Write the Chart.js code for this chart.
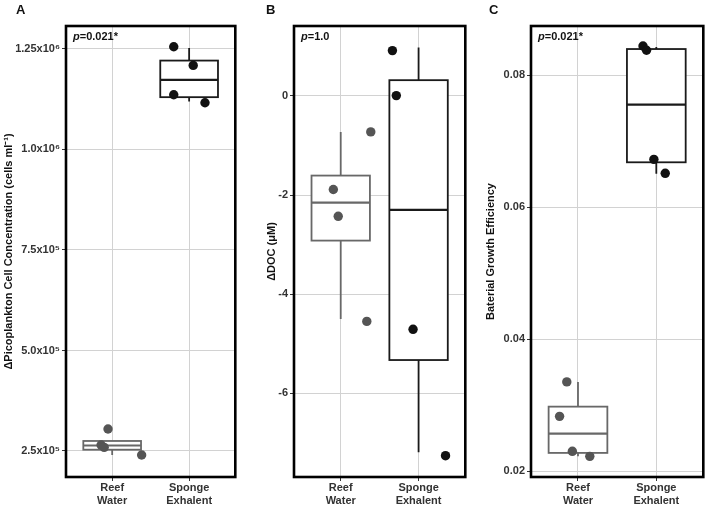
<!DOCTYPE html>
<html><head><meta charset="utf-8">
<script src="https://cdn.jsdelivr.net/npm/chart.js@4.4.1/dist/chart.umd.min.js"></script>
<style>
html,body{margin:0;padding:0;background:#fff;}
body{width:708px;height:507px;position:relative;overflow:hidden;}
canvas{position:absolute;top:0;}
</style></head>
<body>
<canvas id="cA" width="240" height="507" style="left:0px"></canvas>
<canvas id="cB" width="230" height="507" style="left:240px"></canvas>
<canvas id="cC" width="238" height="507" style="left:470px"></canvas>
<script>
// ---------- data ----------
const categories = ['Reef Water', 'Sponge Exhalent'];
const xTickLabels = [['Reef', 'Water'], ['Sponge', 'Exhalent']];

// Panel A: ΔPicoplankton cell concentration
const picoTicks = [2.5e5, 5e5, 7.5e5, 1e6, 1.25e6];
const picoTickLabels = ['2.5x10⁵', '5.0x10⁵', '7.5x10⁵', '1.0x10⁶', '1.25x10⁶'];
const picoReefX = [0.946, 0.856, 0.896, 1.383];
const picoReefY = [3.047e5, 2.65e5, 2.59e5, 2.40e5];
const picoSpongeX = [1.80, 2.053, 1.80, 2.206];
const picoSpongeY = [1.2555e6, 1.209e6, 1.136e6, 1.116e6];
// box stats: [lower whisker, q1, median, q3, upper whisker]
const picoReefBox = [2.40e5, 2.532e5, 2.637e5, 2.749e5, 2.749e5];
const picoSpongeBox = [1.119e6, 1.130e6, 1.173e6, 1.221e6, 1.252e6];
const picoRange = [1.853e5, 1.307e6];
const picoP = '0.021*';

// Panel B: ΔDOC
const docTicks = [-6, -4, -2, 0];
const docTickLabels = ['-6', '-4', '-2', '0'];
const docReefX = [1.386, 0.905, 0.968, 1.335];
const docReefY = [-0.727, -1.89, -2.43, -4.55];
const docSpongeX = [1.664, 1.714, 1.929, 2.346];
const docSpongeY = [0.914, 0.006, -4.71, -7.26];
const docReefBox = [-4.50, -2.92, -2.153, -1.608, -0.727];
const docSpongeBox = [-7.19, -5.33, -2.30, 0.317, 0.975];
const docRange = [-7.69, 1.41];
const docP = '1.0';

// Panel C: Bacterial growth efficiency
const bgeTicks = [0.02, 0.04, 0.06, 0.08];
const bgeTickLabels = ['0.02', '0.04', '0.06', '0.08'];
const bgeReefX = [0.857, 0.765, 0.928, 1.151];
const bgeReefY = [0.03355, 0.02833, 0.02303, 0.02227];
const bgeSpongeX = [1.830, 1.875, 1.969, 2.114];
const bgeSpongeY = [0.08444, 0.08379, 0.06727, 0.06515];
const bgeReefBox = [0.0223, 0.02279, 0.02571, 0.0298, 0.03355];
const bgeSpongeBox = [0.0651, 0.06682, 0.07555, 0.08398, 0.0843];
const bgeRange = [0.01914, 0.08747];
const bgeP = '0.021*';

// ---------- style ----------
const FONT = "'Liberation Sans', Arial, Helvetica, sans-serif";
Chart.defaults.font.family = FONT;
const REEF_LINE = '#686868', REEF_PT = '#555555';
const SPONGE_LINE = '#1a1a1a', SPONGE_PT = '#111111';
const GRID = '#d2d2d2';
const BOX_HALF = 0.375;

function makePanel(id, o) {
  const el = document.getElementById(id);
  const panelPlugin = {
    id: 'panel' + id,
    beforeDatasetsDraw(chart) {
      const {ctx, scales: {x, y}} = chart;
      ctx.save();
      [[o.reefBox, 1, REEF_LINE], [o.spongeBox, 2, SPONGE_LINE]].forEach(([b, pos, col]) => {
        const xc = x.getPixelForValue(pos);
        const xl = x.getPixelForValue(pos - BOX_HALF);
        const xr = x.getPixelForValue(pos + BOX_HALF);
        const [lo, q1, med, q3, hi] = b.map(v => y.getPixelForValue(v));
        ctx.strokeStyle = col;
        ctx.lineWidth = 1.8;
        ctx.beginPath();
        ctx.moveTo(xc, lo); ctx.lineTo(xc, q1);
        ctx.moveTo(xc, q3); ctx.lineTo(xc, hi);
        ctx.stroke();
        ctx.fillStyle = '#ffffff';
        ctx.fillRect(xl, q3, xr - xl, q1 - q3);
        ctx.strokeRect(xl, q3, xr - xl, q1 - q3);
        ctx.lineWidth = 2.2;
        ctx.beginPath();
        ctx.moveTo(xl, med); ctx.lineTo(xr, med);
        ctx.stroke();
      });
      ctx.restore();
    },
    afterDraw(chart) {
      const {ctx, chartArea: a} = chart;
      ctx.save();
      ctx.strokeStyle = '#000';
      ctx.lineWidth = 2.6;
      ctx.strokeRect(a.left, a.top, a.right - a.left, a.bottom - a.top);
      // p-value
      ctx.fillStyle = '#111';
      ctx.textBaseline = 'middle';
      ctx.font = 'italic bold 11px ' + FONT;
      const px = a.left + 7, py = a.top + 11;
      ctx.fillText('p', px, py);
      const w = ctx.measureText('p').width;
      ctx.font = 'bold 11px ' + FONT;
      ctx.fillText('=' + o.p, px + w, py);
      // panel letter
      ctx.font = 'bold 13px ' + FONT;
      ctx.textBaseline = 'alphabetic';
      ctx.fillText(o.letter, o.letterX, 14);
      ctx.restore();
    }
  };
  new Chart(el, {
    type: 'scatter',
    data: {
      datasets: [
        {label: categories[0], data: o.reefX.map((v, i) => ({x: v, y: o.reefY[i]})),
         backgroundColor: REEF_PT, borderColor: REEF_PT, borderWidth: 0, pointRadius: 4.7},
        {label: categories[1], data: o.spongeX.map((v, i) => ({x: v, y: o.spongeY[i]})),
         backgroundColor: SPONGE_PT, borderColor: SPONGE_PT, borderWidth: 0, pointRadius: 4.7}
      ]
    },
    options: {
      responsive: false, animation: false, events: [],
      layout: {padding: {left: 0, top: 26, right: o.padRight, bottom: 0}},
      plugins: {legend: {display: false}, tooltip: {enabled: false}},
      scales: {
        x: {
          type: 'linear', min: 0.4, max: 2.6,
          afterBuildTicks: s => { s.ticks = [{value: 1}, {value: 2}]; },
          afterFit: s => { s.height = 30; },
          ticks: {callback: v => xTickLabels[Math.round(v) - 1], color: '#333',
                  font: {size: 11, weight: 'bold'}, padding: 0, maxRotation: 0, autoSkip: false},
          grid: {color: GRID, lineWidth: 1, tickColor: '#333', tickLength: 4},
          border: {display: false}
        },
        y: {
          type: 'linear', min: o.range[0], max: o.range[1],
          afterBuildTicks: s => { s.ticks = o.ticks.map(v => ({value: v})); },
          afterFit: s => { s.width = o.axisW; },
          ticks: {callback: v => o.tickLabels[o.ticks.indexOf(v)], color: '#333',
                  font: {size: 11, weight: 'bold'}, padding: 2, autoSkip: false},
          grid: {color: GRID, lineWidth: 1, tickColor: '#333', tickLength: 4},
          border: {display: false},
          title: {display: true, text: o.title, color: '#111',
                  font: {size: 11, weight: 'bold'}, padding: {top: o.titleX - 6.6, bottom: 0}}
        }
      }
    },
    plugins: [panelPlugin]
  });
}

makePanel('cA', {
  reefX: picoReefX, reefY: picoReefY, spongeX: picoSpongeX, spongeY: picoSpongeY,
  reefBox: picoReefBox, spongeBox: picoSpongeBox, range: picoRange,
  ticks: picoTicks, tickLabels: picoTickLabels, p: picoP,
  title: 'ΔPicoplankton Cell Concentration (cells ml⁻¹)',
  axisW: 66, padRight: 1, titleX: 9, letter: 'A', letterX: 16
});
makePanel('cB', {
  reefX: docReefX, reefY: docReefY, spongeX: docSpongeX, spongeY: docSpongeY,
  reefBox: docReefBox, spongeBox: docSpongeBox, range: docRange,
  ticks: docTicks, tickLabels: docTickLabels, p: docP,
  title: 'ΔDOC (μM)',
  axisW: 54, padRight: 2, titleX: 32, letter: 'B', letterX: 26
});
makePanel('cC', {
  reefX: bgeReefX, reefY: bgeReefY, spongeX: bgeSpongeX, spongeY: bgeSpongeY,
  reefBox: bgeReefBox, spongeBox: bgeSpongeBox, range: bgeRange,
  ticks: bgeTicks, tickLabels: bgeTickLabels, p: bgeP,
  title: 'Baterial Growth Efficiency',
  axisW: 61, padRight: 2, titleX: 21, letter: 'C', letterX: 19
});
</script>
</body></html>
